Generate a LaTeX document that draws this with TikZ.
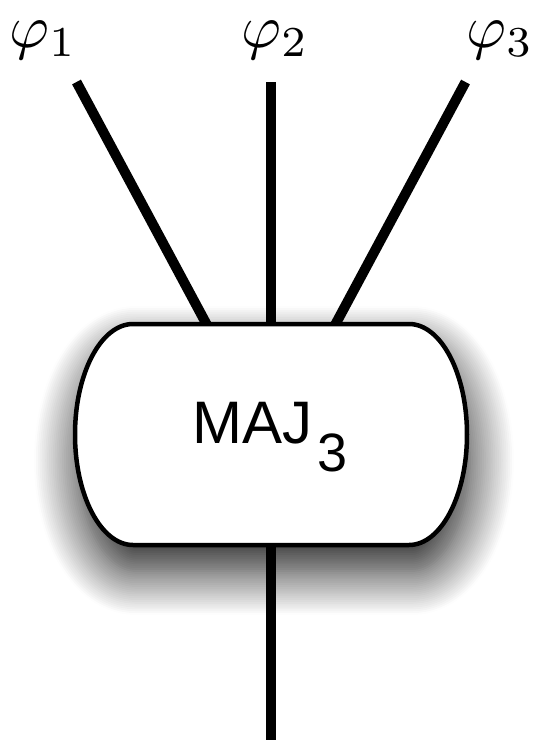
\documentclass[tikz,border=0pt]{standalone}
\usepackage{fontspec}
\newfontfamily\helv{Liberation Sans}
\usetikzlibrary{shadows.blur}
\tikzset{
  wire/.style={line width=10pt},
  gatebox/.style={draw=black, fill=white, line width=4.5pt,
    blur shadow={shadow xshift=3pt, shadow yshift=-26pt, shadow blur radius=44pt, shadow opacity=90, shadow blur steps=24}},
  lbl/.style={anchor=base, inner sep=0pt, scale=6.1},
}
\begin{document}
\begin{tikzpicture}[x=1pt,y=1pt]
\useasboundingbox (0,0) rectangle (536,-740);
% named points
\coordinate (t1) at (76.5,-82);
\coordinate (t2) at (271,-82);
\coordinate (t3) at (465.5,-82);
\coordinate (b1) at (207.5,-326);
\coordinate (b2) at (271,-326);
\coordinate (b3) at (334.5,-326);
\coordinate (o1) at (271,-543);
\coordinate (o2) at (271,-740);
% wires
\draw[wire] (t1) -- (b1);
\draw[wire] (t2) -- (b2);
\draw[wire] (t3) -- (b3);
\draw[wire] (o1) -- (o2);
% gate
\path[gatebox] (133,-324) -- (409,-324)
  arc[start angle=90, end angle=-90, x radius=58, y radius=110.5]
  -- (133,-545)
  arc[start angle=270, end angle=90, x radius=58, y radius=110.5] -- cycle;
\node[inner sep=0pt, anchor=base] (maj) at (270,-443)
  {\helv\fontsize{60}{64}\selectfont MAJ\kern5pt\raisebox{-28pt}{\fontsize{54}{58}\selectfont 3}};
% labels
\node[lbl] (phi1) at (43,-47) {$\varphi_1$};
\node[lbl] (phi2) at (275,-47) {$\varphi_2$};
\node[lbl] (phi3) at (500,-47) {$\varphi_3$};
\end{tikzpicture}
\end{document}
